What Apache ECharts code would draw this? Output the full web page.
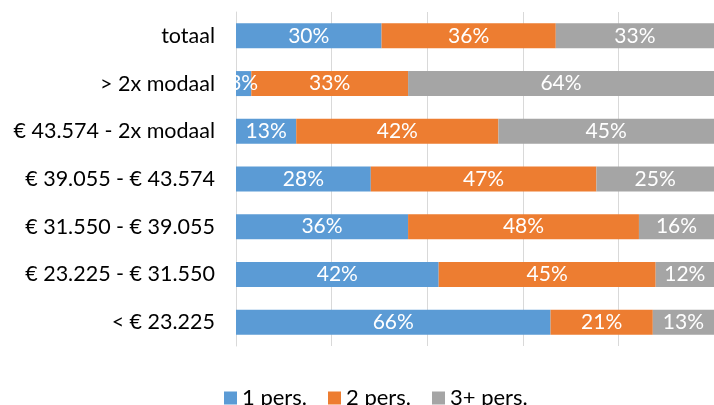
<!DOCTYPE html>
<html><head><meta charset="utf-8">
<script src="https://cdn.jsdelivr.net/npm/echarts@6/dist/echarts.min.js"></script>
<style>html,body{margin:0;padding:0;background:#fff}#c{width:714px;height:405px}</style>
</head><body><div id="c"></div>
<script>
var categories = ['totaal', '> 2x modaal', '€ 43.574 - 2x modaal', '€ 39.055 - € 43.574', '€ 31.550 - € 39.055', '€ 23.225 - € 31.550', '< € 23.225'];
var seriesNames = ['1 pers.', '2 pers.', '3+ pers.'];
var pers1 = [30.45, 3.2, 12.6, 28.2, 36.0, 42.4, 65.8];
var pers2 = [36.45, 32.8, 42.3, 47.2, 48.3, 45.4, 21.4];
var pers3 = [33.1, 64.0, 45.1, 24.6, 15.7, 12.2, 12.8];
var colors = ['#5B9BD5', '#ED7D31', '#A5A5A5'];
var font = 'Lato, "Open Sans", sans-serif';
var chart = echarts.init(document.getElementById('c'));
function mk(name, data, i) {
  return {
    name: name, type: 'bar', stack: 's', data: data, barWidth: 25,
    itemStyle: { color: colors[i] },
    label: { show: true, position: 'inside', color: '#fff', fontSize: 21, fontFamily: font,
      formatter: function (p) { return Math.round(p.value) + '%'; } }
  };
}
chart.setOption({
  animation: false,
  textStyle: { fontFamily: font },
  grid: { left: 236, top: 12, width: 482, height: 334, containLabel: false },
  xAxis: { type: 'value', min: 0, max: 100, interval: 20,
    axisLabel: { show: false }, axisLine: { show: false }, axisTick: { show: false },
    splitLine: { lineStyle: { color: '#d9d9d9', width: 1 } } },
  yAxis: { type: 'category', data: categories, inverse: true,
    axisLine: { show: true, lineStyle: { color: '#d9d9d9' } }, axisTick: { show: false },
    axisLabel: { color: '#000', fontSize: 21.5, fontFamily: font, margin: 21 } },
  legend: { data: seriesNames, left: 219, top: 382, icon: 'rect', itemWidth: 13, itemHeight: 13, itemGap: 21,
    textStyle: { color: '#000', fontSize: 22, fontFamily: font } },
  series: [mk(seriesNames[0], pers1, 0), mk(seriesNames[1], pers2, 1), mk(seriesNames[2], pers3, 2)]
});
</script></body></html>
